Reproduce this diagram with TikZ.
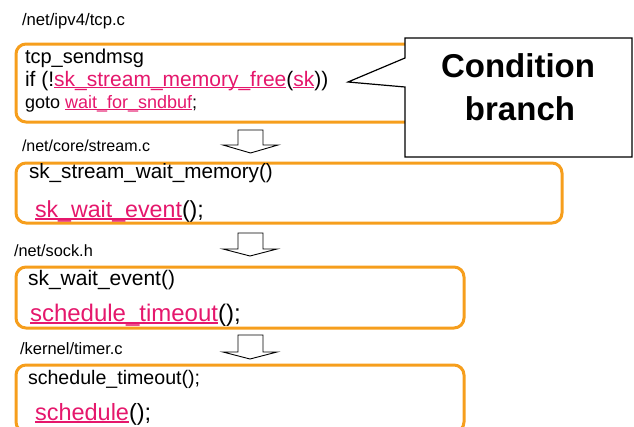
\documentclass[tikz,border=0pt]{standalone}
\usepackage{fontspec}
\setmainfont{Liberation Sans}
\definecolor{boxorange}{RGB}{246,158,28}
\definecolor{pk}{RGB}{229,23,108}
\newcommand\fs[1]{\fontsize{#1}{#1}\selectfont}
\newcommand\ulpk[1]{\textcolor{pk}{\setbox0\hbox{#1}\rlap{\rule[-0.11em]{\wd0}{0.065em}}\box0}}
\tikzset{
  codebox/.style={draw=boxorange, line width=3pt, rounded corners=10pt},
  txt/.style={anchor=base west, inner sep=0pt, outer sep=0pt},
  blockarrow/.style={draw=black, line width=0.9pt, fill=white, line join=miter},
  callout/.style={draw=black, line width=1.2pt, fill=white}
}
\begin{document}
\begin{tikzpicture}[x=1pt,y=-1pt]
\useasboundingbox (0,0) rectangle (634,426);
\clip (0,0) rectangle (634,426);
% boxes
\draw[codebox] (16,44) rectangle (563,122);
\draw[codebox] (16,163) rectangle (562,223);
\draw[codebox] (16,267) rectangle (464,328);
\draw[codebox] (16,365) rectangle (464,432);
% file labels
\node[txt] (l1) at (22,25) {\fs{16.7}/net/ipv4/tcp.c};
\node[txt] (l2) at (22,151) {\fs{16}/net/core/stream.c};
\node[txt] (l3) at (14,256) {\fs{16.3}/net/sock.h};
\node[txt] (l4) at (20,354) {\fs{16.5}/kernel/timer.c};
% box 1
\node[txt] (a1) at (25,63) {\fs{20}tcp\_sendmsg};
\node[txt] (a2) at (25,86) {\fs{21}if (!\ulpk{sk\_stream\_memory\_free}(\ulpk{sk}))};
\node[txt] (a3) at (25,108) {\fs{18}goto \ulpk{wait\_for\_sndbuf};};
% box 2
\node[txt] (b1) at (29,178) {\fs{20.7}sk\_stream\_wait\_memory()};
\node[txt] (b2) at (35,217) {\fs{23.2}\ulpk{sk\_wait\_event}();};
% box 3
\node[txt] (c1) at (28,285) {\fs{21}sk\_wait\_event()};
\node[txt] (c2) at (30,321) {\fs{24}\ulpk{schedule\_timeout}();};
% box 4
\node[txt] (d1) at (28,384) {\fs{19.6}schedule\_timeout();};
\node[txt] (d2) at (35,420) {\fs{23.5}\ulpk{schedule}();};
% hollow arrows
\draw[blockarrow] (238,130) -- (263,130) -- (263,145) -- (278,145) -- (250.5,153) -- (223,145) -- (238,145) -- cycle;
\draw[blockarrow] (238,233) -- (263,233) -- (263,249) -- (277,249) -- (250,256) -- (223,249) -- (238,249) -- cycle;
\draw[blockarrow] (238,335) -- (263,335) -- (263,352) -- (277,352) -- (250,359) -- (223,352) -- (238,352) -- cycle;
% callout
\draw[callout] (405,38) -- (632,38) -- (632,157) -- (405,157) -- (405,87) -- (348,82) -- (405,58) -- cycle;
\node[txt, anchor=base] (k1) at (518,77) {\fs{33}\bfseries Condition};
\node[txt, anchor=base] (k2) at (520,120) {\fs{33}\bfseries branch};
\end{tikzpicture}
\end{document}
